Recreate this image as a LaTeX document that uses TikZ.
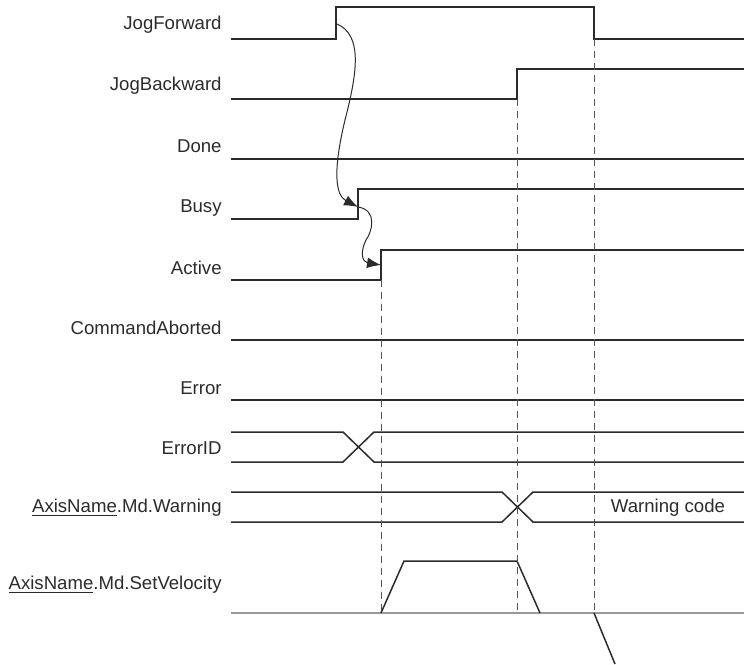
\documentclass[tikz,border=0pt]{standalone}
\usepackage{fontspec}
\setmainfont{Liberation Sans}
\usetikzlibrary{arrows.meta,positioning}
\definecolor{wave}{HTML}{2B2B2B}
\definecolor{base}{HTML}{999999}
\tikzset{>={Latex[length=7pt,width=5.4pt]},
         signal/.style={draw=wave,line width=0.75pt},
         baseline/.style={draw=base,line width=0.9pt},
         guide/.style={draw=wave!80,line width=0.5pt,dash pattern=on 3.5pt off 2.5pt},
         cause/.style={draw=wave,line width=0.5pt,->},
         sname/.style={anchor=east,inner sep=0pt,text=wave,
           font=\fontsize{9.3}{11}\selectfont}}

\begin{document}
\begin{tikzpicture}[x=0.5pt,y=-0.5pt]
  \useasboundingbox (0,0) rectangle (744,664);
  % signal names
  \node[sname] (jfwd) at (222,25)  {JogForward};
  \node[sname] (jbwd) at (222,86)  {JogBackward};
  \node[sname] (done) at (222,146) {Done};
  \node[sname] (busy) at (222,208) {Busy};
  \node[sname] (actv) at (222,268) {Active};
  \node[sname] (cabt) at (222,328) {CommandAborted};
  \node[sname] (err)  at (222,388) {Error};
  \node[sname] (eid)  at (222,448) {ErrorID};
  \node[sname] (warn) at (222,508) {\underline{AxisName}.Md.Warning};
  \node[sname] (svel) at (222,585) {\underline{AxisName}.Md.SetVelocity};
  % edges
  \coordinate (jfwd-rise) at (337,24);
  \coordinate (busy-rise) at (358,207);
  \coordinate (actv-rise) at (381,265);
  % waveforms
  \draw[signal] (231,39) -- (336,39) -- (336,7) -- (594,7) -- (594,39) -- (744,39);
  \draw[signal] (231,99) -- (517,99) -- (517,69) -- (744,69);
  \draw[signal] (231,159) -- (744,159);
  \draw[signal] (231,219) -- (358,219) -- (358,189) -- (744,189);
  \draw[signal] (231,280) -- (381,280) -- (381,250) -- (744,250);
  \draw[signal] (231,340) -- (744,340);
  \draw[signal] (231,400) -- (744,400);
  \draw[signal] (231,432) -- (343,432) -- (374,462) -- (744,462);
  \draw[signal] (231,462) -- (343,462) -- (374,432) -- (744,432);
  \draw[signal] (231,492) -- (502,492) -- (533,522) -- (744,522);
  \draw[signal] (231,522) -- (502,522) -- (533,492) -- (744,492);
  \node[sname,anchor=center] (wcode) at (668,508) {Warning code};
  \draw[baseline] (231,613) -- (744,613);
  \draw[signal] (381,613) -- (404,561) -- (517,561) -- (540,613);
  \draw[signal] (594,613) -- (615,664);
  % timing guides
  \draw[guide] (381,280) -- (381,613);
  \draw[guide] (517,99) -- (517,613);
  \draw[guide] (594,39) -- (594,613);
  % cause and effect
  \draw[cause] (jfwd-rise) .. controls (362,35) and (358,70) .. (345,120)
     .. controls (333,170) and (335,195) .. (busy-rise);
  \draw[cause] (busy-rise) .. controls (378,210) and (372,232) .. (366,240)
     .. controls (360,252) and (362,262) .. (actv-rise);
\end{tikzpicture}
\end{document}
